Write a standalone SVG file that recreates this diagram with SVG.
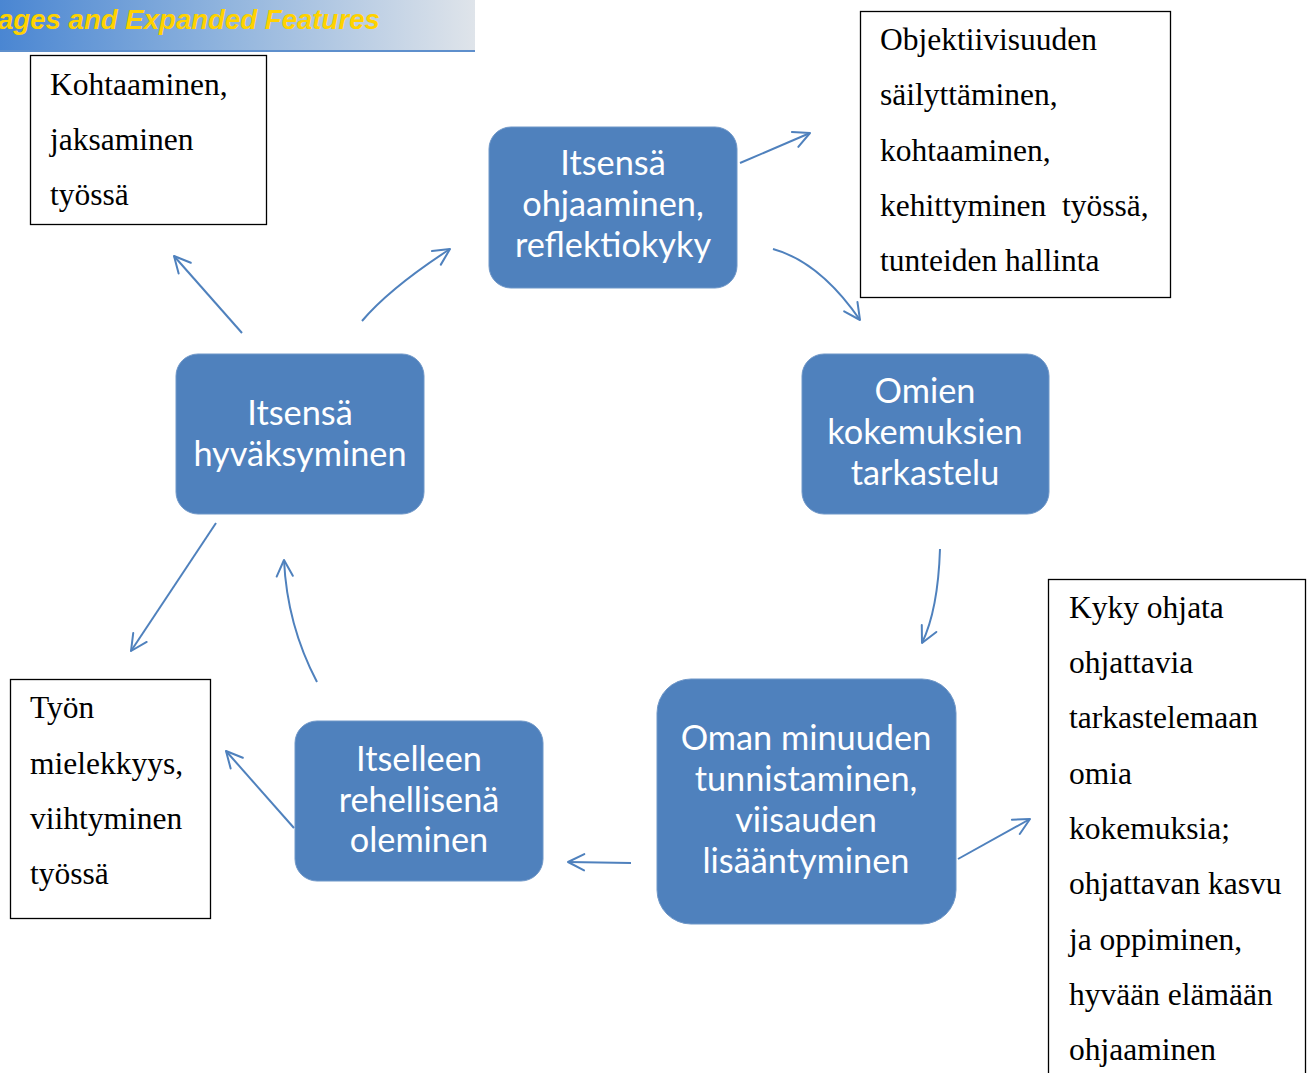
<svg xmlns="http://www.w3.org/2000/svg" width="1315" height="1073" viewBox="0 0 1315 1073">
<defs>
  <linearGradient id="bannerGrad" x1="0" y1="0" x2="1" y2="0">
    <stop offset="0" stop-color="#4A86D2"/>
    <stop offset="0.45" stop-color="#8DB2DD"/>
    <stop offset="1" stop-color="#DFE4EA"/>
  </linearGradient>
  <marker id="arrow" viewBox="0 0 20 20" markerWidth="20" markerHeight="20" refX="18" refY="10" orient="auto" markerUnits="userSpaceOnUse">
    <path d="M1.8,1.9 L18,10 L1.8,18.1" fill="none" stroke="#4F81BD" stroke-width="2" stroke-linecap="round" stroke-linejoin="round"/>
  </marker>
</defs>
<style>
  .node rect { fill: #4F81BD; stroke: #6F97C8; stroke-width: 1; }
  .node text { font-family: Lato, "Open Sans", sans-serif; font-size: 34.3px; fill: #FFFFFF; text-anchor: middle; }
  .note rect { fill: #FFFFFF; stroke: #000000; stroke-width: 1.3; }
  .note text { font-family: "Liberation Serif", "Times New Roman", serif; font-size: 31.5px; fill: #000000; white-space: pre; }
  .conn path { fill: none; stroke: #4F81BD; stroke-width: 2; marker-end: url(#arrow); }
  .banner-text { font-family: "Liberation Sans", Arial, sans-serif; font-size: 27.6px; font-weight: bold; font-style: italic; fill: #FFD200; }
</style>
<rect width="1315" height="1073" fill="#FFFFFF"/>

<g id="banner">
  <rect x="0" y="0" width="475" height="51" fill="url(#bannerGrad)"/>
  <rect x="0" y="50" width="475" height="2" fill="#5E8FCC"/>
  <text class="banner-text" x="-2" y="29">ages and Expanded Features</text>
</g>

<g id="node-ohjaaminen" class="node">
  <rect x="489" y="127" width="248" height="161" rx="22"/>
  <text x="613" y="175">Itsensä</text>
  <text x="613" y="216">ohjaaminen,</text>
  <text x="613" y="257">reflektiokyky</text>
</g>
<g id="node-kokemuksien" class="node">
  <rect x="802" y="354" width="247" height="160" rx="22"/>
  <text x="925" y="403">Omien</text>
  <text x="925" y="444">kokemuksien</text>
  <text x="925" y="485">tarkastelu</text>
</g>
<g id="node-minuuden" class="node">
  <rect x="657" y="679" width="299" height="245" rx="34"/>
  <text x="806" y="750">Oman minuuden</text>
  <text x="806" y="791">tunnistaminen,</text>
  <text x="806" y="832">viisauden</text>
  <text x="806" y="873">lisääntyminen</text>
</g>
<g id="node-rehellisena" class="node">
  <rect x="295" y="721" width="248" height="160" rx="22"/>
  <text x="419" y="771">Itselleen</text>
  <text x="419" y="812">rehellisenä</text>
  <text x="419" y="852">oleminen</text>
</g>
<g id="node-hyvaksyminen" class="node">
  <rect x="176" y="354" width="248" height="160" rx="22"/>
  <text x="300" y="425">Itsensä</text>
  <text x="300" y="466">hyväksyminen</text>
</g>

<g id="note-kohtaaminen" class="note">
  <rect x="30.5" y="55.5" width="236" height="169"/>
  <text x="50" y="95">Kohtaaminen,</text>
  <text x="50" y="150">jaksaminen</text>
  <text x="50" y="205">työssä</text>
</g>
<g id="note-objektiivisuus" class="note">
  <rect x="860.5" y="11.5" width="310" height="286"/>
  <text x="880" y="50">Objektiivisuuden</text>
  <text x="880" y="105">säilyttäminen,</text>
  <text x="880" y="161">kohtaaminen,</text>
  <text x="880" y="216" xml:space="preserve">kehittyminen  työssä,</text>
  <text x="880" y="271">tunteiden hallinta</text>
</g>
<g id="note-mielekkyys" class="note">
  <rect x="10.5" y="679.5" width="200" height="239"/>
  <text x="30" y="718">Työn</text>
  <text x="30" y="774">mielekkyys,</text>
  <text x="30" y="829">viihtyminen</text>
  <text x="30" y="884">työssä</text>
</g>
<g id="note-kyky" class="note">
  <rect x="1048.5" y="579.5" width="257" height="510"/>
  <text x="1069" y="618">Kyky ohjata</text>
  <text x="1069" y="673">ohjattavia</text>
  <text x="1069" y="728">tarkastelemaan</text>
  <text x="1069" y="784">omia</text>
  <text x="1069" y="839">kokemuksia;</text>
  <text x="1069" y="894">ohjattavan kasvu</text>
  <text x="1069" y="950">ja oppiminen,</text>
  <text x="1069" y="1005">hyvään elämään</text>
  <text x="1069" y="1060">ohjaaminen</text>
</g>

<g id="connectors" class="conn">
  <path d="M740,163 L810,133"/>
  <path d="M773,249 Q820,262 860,320"/>
  <path d="M940,549 Q938,610 922,643"/>
  <path d="M958,859 L1030,819"/>
  <path d="M631,863 L568,862"/>
  <path d="M294,828 L226,751"/>
  <path d="M317,682 Q287,625 284,560"/>
  <path d="M216,523 L131,651"/>
  <path d="M242,333 L174,256"/>
  <path d="M362,321 Q390,288 450,249"/>
</g>
</svg>
